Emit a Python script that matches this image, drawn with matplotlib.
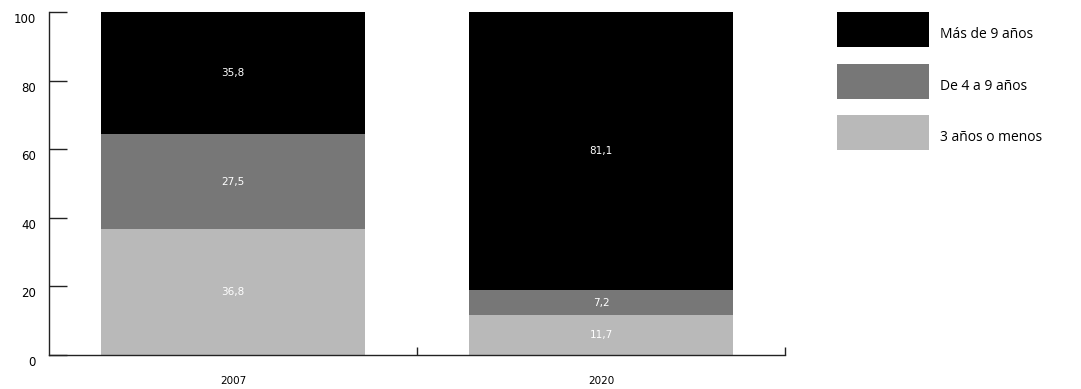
import matplotlib
matplotlib.use("Agg")
import matplotlib.pyplot as plt
import matplotlib.transforms as mtransforms
from matplotlib.patches import Rectangle

years = ["2007", "2020"]
series_names = ["3 años o menos", "De 4 a 9 años", "Más de 9 años"]
menos3 = [36.8, 11.7]
de4a9 = [27.5, 7.2]
mas9 = [35.8, 81.1]
colors = ["#b9b9b9", "#777777", "#000000"]
yticks = [0, 20, 40, 60, 80, 100]

NUMFONT = ["DejaVu Sans"]
LEGFONT = ["Open Sans", "DejaVu Sans"]

fig = plt.figure(figsize=(10.81, 3.89), dpi=100)
ax = fig.add_axes([49/1081, 1-355/389, (785-49)/1081, (355-12)/389])

x = list(range(len(years)))
bottom = [0.0]*len(years)
for vals, col in zip([menos3, de4a9, mas9], colors):
    ax.bar(x, vals, width=0.72, bottom=bottom, color=col, linewidth=0)
    for xi, v, b in zip(x, vals, bottom):
        ax.text(xi, b + v/2, f"{v:.1f}".replace(".", ","), ha="center", va="center",
                color="white", fontsize=7.5, family=NUMFONT)
    bottom = [b + v for b, v in zip(bottom, vals)]

ax.set_xlim(-0.5, 1.5)
ax.set_ylim(0, 100)
ax.set_yticks(yticks)
ax.set_yticklabels([str(t) for t in yticks], fontsize=8.5, family=NUMFONT)
ax.tick_params(axis="y", direction="in", length=13, width=1, color="#222222", pad=9.5)
offset = mtransforms.ScaledTranslation(0, -6/100, fig.dpi_scale_trans)
for lab in ax.get_yticklabels():
    lab.set_transform(lab.get_transform() + offset)

ax.set_xticks([0.5, 1.5])
ax.set_xticklabels(["", ""])
ax.tick_params(axis="x", direction="in", length=6, width=1, color="#222222")
for xi, y in zip(x, years):
    ax.text(xi, -0.075, y, transform=ax.get_xaxis_transform(), ha="center", va="center",
            fontsize=7.5, family=NUMFONT)

for s in ["top", "right"]:
    ax.spines[s].set_visible(False)
for s in ["left", "bottom"]:
    ax.spines[s].set_color("#222222")
    ax.spines[s].set_linewidth(1)

# legend drawn in figure pixel space
W, H = 1081, 389
for i, (name, col) in enumerate(zip(reversed(series_names), reversed(colors))):
    top = 12 + i*51.5
    fig.patches.append(Rectangle((837/W, 1-(top+35)/H), 92/W, 35/H, transform=fig.transFigure,
                                 color=col, linewidth=0))
    fig.text(940/W, 1-(top+23)/H, name, ha="left", va="center", fontsize=10, family=LEGFONT)

fig.savefig("out.png", dpi=100)
